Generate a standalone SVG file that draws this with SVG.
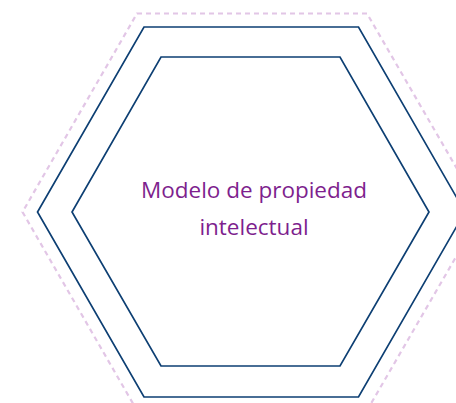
<svg xmlns="http://www.w3.org/2000/svg" width="456" height="403" viewBox="0 0 456 403">
<style>
.outer{fill:none;stroke:#e2c6e6;stroke-width:2.2;stroke-dasharray:5 4}
.hex{fill:none;stroke:#0d3f73;stroke-width:1.7;stroke-linejoin:miter}
.lbl{font-family:"Open Sans","Noto Sans","Liberation Sans",sans-serif;font-size:22.5px;fill:#7e1f8e;text-anchor:middle}
</style>
<rect width="456" height="403" fill="#ffffff"/>
<g id="outer-hexagon">
<polygon class="outer" points="137,13.5 367,13.5 482,212 367,410.5 137,410.5 22.5,212"/>
</g>
<g id="middle-hexagon">
<polygon class="hex" points="144,27 358.5,27 465,212 358.5,397 144,397 37.5,212"/>
</g>
<g id="inner-hexagon">
<polygon class="hex" points="161,57 340,57 429,212 340,366 161,366 72,212"/>
</g>
<g id="label">
<text class="lbl" x="254" y="198">Modelo de propiedad</text>
<text class="lbl" x="254" y="235">intelectual</text>
</g>
</svg>
